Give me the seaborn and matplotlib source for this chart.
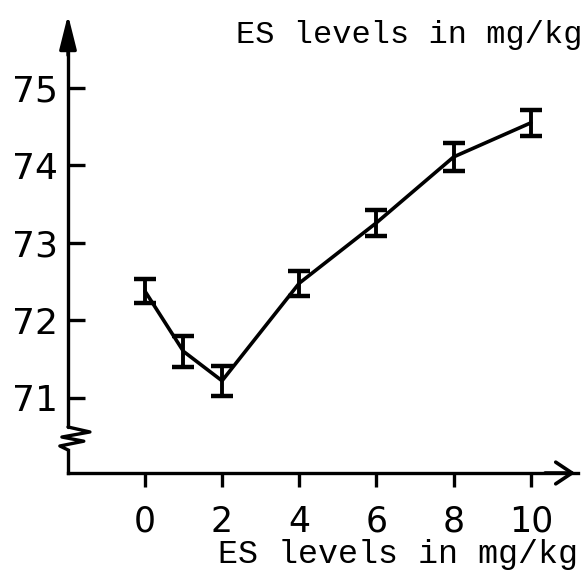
import numpy as np
import pandas as pd
import matplotlib
matplotlib.use("Agg")
import matplotlib.pyplot as plt
import seaborn as sns

# values
es_levels = [0, 1, 2, 4, 6, 8, 10]
response = [72.38, 71.60, 71.22, 72.48, 73.26, 74.11, 74.55]
response_err = [0.15, 0.20, 0.19, 0.16, 0.17, 0.18, 0.17]
x_ticks = [0, 2, 4, 6, 8, 10]
y_ticks = [71, 72, 73, 74, 75]
axis_title = "ES levels in mg/kg"

df = pd.DataFrame({"es": es_levels, "value": response, "err": response_err})

sns.set_style("ticks")
plt.rcParams["font.family"] = ["DejaVu Sans"]

fig = plt.figure(figsize=(5.84, 5.78), dpi=100)
ax = fig.add_axes([68 / 584, 105 / 578, 510 / 584, 461 / 578])

# line + error bars
sns.lineplot(data=df, x="es", y="value", color="black", linewidth=2.6, ax=ax, legend=False)
ax.errorbar(df["es"], df["value"], yerr=df["err"], fmt="none", ecolor="black",
            elinewidth=2.8, capsize=8, capthick=3.2)

ax.set_xlim(-1.99, 11.22)
ax.set_ylim(70.03, 75.98)
ax.set_xticks(x_ticks)
ax.set_yticks(y_ticks)

ax.tick_params(axis="y", direction="in", length=12, width=2.4, pad=7, labelsize=26,
               left=True, colors="black")
ax.tick_params(axis="x", direction="out", length=10, width=2.4, pad=13, labelsize=25,
               bottom=True, colors="black")

# axes drawn by hand: arrows and broken y axis
for s in ["top", "right", "left"]:
    ax.spines[s].set_visible(False)
ax.spines["bottom"].set_linewidth(2.4)
ax.spines["bottom"].set_color("black")

ax.plot([0, 0], [0.0998, 0.96], transform=ax.transAxes, color="black", lw=2.4, clip_on=False)
ax.plot([0, 0], [0, 0.05], transform=ax.transAxes, color="black", lw=2.4, clip_on=False,
        solid_capstyle="projecting")
zig_x = [0, 0.043, -0.012, 0.031, -0.016, 0]
zig_y = [0.0998, 0.089, 0.078, 0.069, 0.0586, 0.05]
ax.plot(zig_x, zig_y, transform=ax.transAxes, color="black", lw=2.4, clip_on=False)

ax.annotate("", xy=(0, 1.0), xytext=(0, 0.9), xycoords="axes fraction",
            arrowprops=dict(arrowstyle="-|>,head_length=0.8,head_width=0.2", lw=2.4,
                            color="black", mutation_scale=26))
ax.annotate("", xy=(1.0, 0), xytext=(0.93, 0), xycoords="axes fraction",
            arrowprops=dict(arrowstyle="->,head_length=0.45,head_width=0.3", lw=2.6,
                            color="black", mutation_scale=26))

ax.set_xlabel("")
ax.set_ylabel("")
fig.text(0.997, 1 - 35 / 578, axis_title, family="Liberation Mono", fontsize=23,
         ha="right", va="center", color="black")
fig.text(578 / 584, 1 - 555 / 578, axis_title, family="Liberation Mono", fontsize=24,
         ha="right", va="center", color="black")

fig.savefig("out.png", dpi=100)
